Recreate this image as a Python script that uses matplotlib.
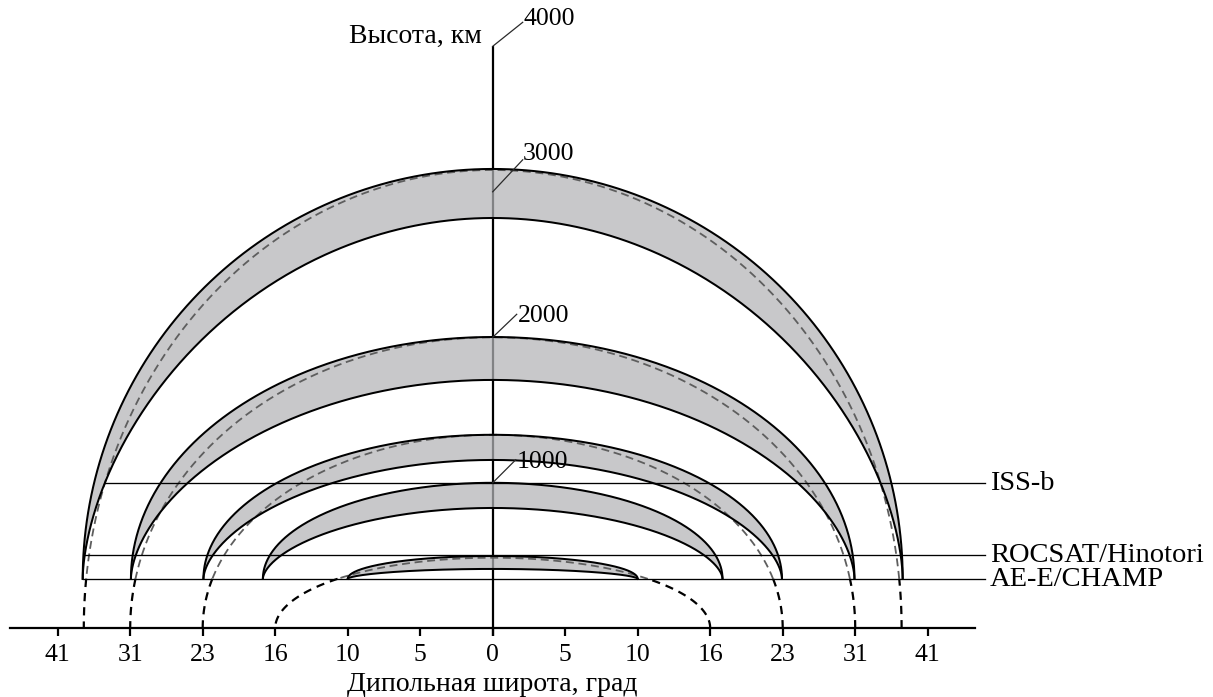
import numpy as np
import matplotlib
matplotlib.use('Agg')
import matplotlib.pyplot as plt

# ---------------- data ----------------
lat_tick_labels = ['41', '31', '23', '16', '10', '5', '0', '5', '10', '16', '23', '31', '41']
lat_tick_pos = list(range(-6, 7))          # schematic, evenly spaced latitude slots

height_tick_values = [1000, 2000, 3000, 4000]   # km
height_axis_top = 4000

orbit_names = ['ISS-b', 'ROCSAT/Hinotori', 'AE-E/CHAMP']
orbit_heights = [1000, 505, 340]           # km

# shaded bands (outer -> inner): half width at base (latitude slots), apex heights (km)
band_base = 340
band_halfwidth = [5.655, 4.99, 3.99, 3.17, 2.0]
band_outer_apex = [3157, 2002, 1330, 1000, 497]
band_inner_apex = [2820, 1707, 1157, 827, 408]

# dipole field lines (dashed): footprint at ground (slots) and apex (km)
field_foot = [5.64, 5.0, 4.0, 3.0]
field_apex = [3150, 2000, 1330, 485]

# ---------------- layout ----------------
W, H = 1213, 697
X0_PX, Y0_PX = 492.7, 628.3     # pixel position of (0 slot, 0 km)
PX_PER_SLOT = 72.5
PX_PER_KM = 0.1455

plt.rcParams['font.family'] = ['Liberation Serif', 'DejaVu Serif']
fig = plt.figure(figsize=(W / 100, H / 100), dpi=100)
ax = fig.add_axes([0, 0, 1, 1])
ax.set_xlim(-X0_PX / PX_PER_SLOT, (W - X0_PX) / PX_PER_SLOT)
ax.set_ylim(-(H - Y0_PX) / PX_PER_KM, Y0_PX / PX_PER_KM)

def px_u(dx):
    return dx / PX_PER_SLOT

def px_km(dy):
    return dy / PX_PER_KM

FILL = '#b3b4b7'
FILL_ALPHA = 0.725
q_inner = 1.7
NUM_FS = 18.5
TXT_FS = 20.0
LBL_FS = 20.5

theta = np.linspace(0, np.pi, 600)

# vertical axis (under the fills)
ax.plot([0, 0], [px_km(-8), height_axis_top], color='black', lw=1.6, zorder=1,
        solid_capstyle='butt')

def band_curve(a, base, apex, q):
    x = a * np.cos(theta)
    y = base + (apex - base) * np.sin(theta) ** (2.0 / q)
    return x, y

for a, ho, hi in zip(band_halfwidth, band_outer_apex, band_inner_apex):
    xo, yo = band_curve(a, band_base, ho, 2.0)
    xi, yi = band_curve(a, band_base, hi, q_inner)
    poly_x = np.concatenate([xo, xi[::-1]])
    poly_y = np.concatenate([yo, yi[::-1]])
    ax.fill(poly_x, poly_y, color=FILL, alpha=FILL_ALPHA, lw=0, zorder=2)
    ax.plot(xo, yo, color='black', lw=1.45, zorder=4)
    ax.plot(xi, yi, color='black', lw=1.45, zorder=4)

# field lines: black dashed below the lowest orbit, gray dashed above
for a, b in zip(field_foot, field_apex):
    tc = np.arcsin(min(band_base / b, 1.0))
    for t0, t1 in [(0, tc), (np.pi - tc, np.pi)]:
        t = np.linspace(t0, t1, 100)
        ax.plot(a * np.cos(t), b * np.sin(t), color='black', lw=1.6,
                dashes=(3.7, 2.7), zorder=3)
    t = np.linspace(tc, np.pi - tc, 500)
    ax.plot(a * np.cos(t), b * np.sin(t), color='#5e5e5e', lw=1.3,
            dashes=(4.4, 2.6), zorder=3)

# orbit lines
line_end = px_u(985 - X0_PX)
a0, hin0 = band_halfwidth[0], band_inner_apex[0]
for name, h in zip(orbit_names, orbit_heights):
    r = np.clip((h - band_base) / (hin0 - band_base), 0, 1)
    x_start = -a0 * np.sqrt(1 - r ** q_inner)
    ax.plot([x_start, line_end], [h, h], color='black', lw=0.95, zorder=5)
    ax.text(px_u(990 - X0_PX), h - px_km(7.5), name, fontsize=LBL_FS,
            ha='left', va='baseline', zorder=6)

# height labels with leaders (pixel offsets: leader end, text baseline-left)
leader_end = {1000: (23, 23), 2000: (24, 23), 3000: (30, 32), 4000: (30, 24)}
text_pos = {1000: (24, 15), 2000: (25, 15), 3000: (30, 32), 4000: (31, 21)}
for hv in height_tick_values:
    lx, ly = leader_end[hv]
    tx, ty = text_pos[hv]
    ax.plot([0, px_u(lx)], [hv, hv + px_km(ly)], color='#2a2a2a', lw=0.9, zorder=5)
    ax.text(px_u(tx), hv + px_km(ty), f'{hv}', fontsize=NUM_FS, ha='left',
            va='baseline', zorder=6)

ax.text(px_u(482 - X0_PX), px_km(Y0_PX - 43), 'Высота, км', fontsize=TXT_FS,
        ha='right', va='baseline')

# x axis as bottom spine
for s in ['top', 'right', 'left']:
    ax.spines[s].set_visible(False)
ax.spines['bottom'].set_position(('data', 0))
ax.spines['bottom'].set_bounds(px_u(10 - X0_PX), px_u(975 - X0_PX))
ax.spines['bottom'].set_linewidth(1.6)
ax.set_yticks([])
ax.set_xticks(lat_tick_pos)
ax.set_xticklabels(lat_tick_labels)
ax.tick_params(axis='x', direction='out', length=6, width=1.6, pad=5,
               labelsize=NUM_FS)
ax.text(0, px_km(Y0_PX - 691), 'Дипольная широта, град', fontsize=TXT_FS,
        ha='center', va='baseline')

fig.savefig('out.png', dpi=100)
